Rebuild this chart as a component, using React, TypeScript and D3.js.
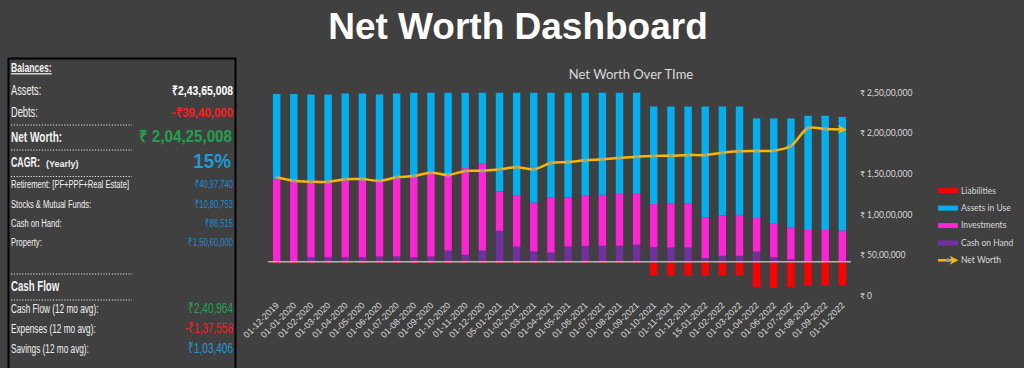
import React, { useEffect, useRef } from 'react';
import * as d3 from 'd3';

// months shown on the chart
const dates = [
  '01-12-2019', '01-01-2020', '01-02-2020', '01-03-2020', '01-04-2020', '01-05-2020',
  '01-06-2020', '01-07-2020', '01-08-2020', '01-09-2020', '01-10-2020', '01-11-2020',
  '01-12-2020', '05-01-2021', '01-02-2021', '01-03-2021', '01-04-2021', '01-05-2021',
  '01-06-2021', '01-07-2021', '01-08-2021', '01-09-2021', '01-10-2021', '01-11-2021',
  '01-12-2021', '15-01-2022', '01-02-2022', '01-03-2022', '01-04-2022', '01-06-2022',
  '01-07-2022', '01-08-2022', '01-09-2022', '01-11-2022',
];

// all values in lakhs (1 lakh = 1,00,000)
const cashOnHand = [0.5, 0.5, 7.9, 7.9, 7.9, 7.9, 8.9, 8.9, 7.9, 8.9, 19, 11.8, 19, 52.1, 25.7, 17.3, 15.6,
  25.7, 26.9, 26.9, 26.9, 28.6, 24.7, 24, 24, 6.2, 10.1, 10.1, 17.3, 7.9, 4.5, 0.9, 0.9, 0.87];
const investments = [137.4, 134.5, 126.6, 126.6, 129.1, 129.1, 126.8, 131.2, 135, 139.6, 125.6, 145.8, 146.3,
  66.1, 86.5, 82.4, 92.9, 82.4, 84.1, 85.8, 87.4, 86.9, 72.3, 74.7, 74.7, 68.3, 67.8, 68.9, 56.2, 56, 53.1,
  52.9, 52.9, 51.78];
const assetsInUse = [144.1, 147, 146.8, 146.8, 146, 146, 145.6, 142.9, 141.3, 135.7, 139.6, 126.6, 118.9, 166,
  172, 184.5, 175.7, 176.1, 173.2, 171.5, 169.9, 168.7, 164.1, 162.4, 162.4, 186.6, 183.2, 182.1, 167.5, 177.1,
  183.4, 191.7, 191.7, 191.0];
const liabilities = [-2.5, -2.5, -2.5, -2.5, -2.5, -2.5, -2.5, -2.5, -2.5, -2.5, -2.5, -2.5, -2.5, -2.5, -2.5,
  -2.5, -2, -2, -2, -2, -2, -2, -23, -23, -23, -23, -23, -23, -43.2, -44.2, -42.5, -39.4, -39.4, -39.4];
const netWorth = [145.5, 141.3, 140.1, 140.1, 143.1, 143.4, 141.3, 145.5, 147.1, 151.2, 148.4, 153.3, 153.6,
  155.4, 157.8, 155.4, 163.1, 164.3, 166.4, 167.7, 169.2, 170.8, 171.7, 172.1, 172.9, 172.9, 175.8, 177.5,
  177.9, 178.2, 184, 205.8, 204.9, 204.25];

const nwTicks = [0, 50, 100, 150, 200, 250];

const legendLabels = ['Liabilities', 'Assets in Use', 'Investments', 'Cash on Hand', 'Net Worth'];
const colors = {
  liabilities: '#ff0000',
  assets: '#00b0f0',
  investments: '#ff22d6',
  cash: '#7030a0',
  line: '#f5b800',
  marker: '#7f9fc4',
};

// left panel
const balanceLabels = ['Assets:', 'Debts:'];
const balanceValues = ['₹2,43,65,008', '-₹39,40,000'];
const netWorthValue = '₹ 2,04,25,008';
const cagrValue = '15%';
const holdingLabels = ['Retirement: [PF+PPF+Real Estate]', 'Stocks & Mutual Funds:', 'Cash on Hand:', 'Property:'];
const holdingValues = ['₹40,97,740', '₹10,80,753', '₹86,515', '₹1,50,60,000'];
const flowLabels = ['Cash Flow (12 mo avg):', 'Expenses (12 mo avg):', 'Savings (12 mo avg):'];
const flowValues = ['₹2,40,964', '-₹1,37,558', '₹1,03,406'];

function inr(lakhs: number) {
  const s = String(Math.round(lakhs * 100000));
  if (s.length <= 3) return '₹ ' + s;
  const last3 = s.slice(-3);
  const rest = s.slice(0, -3).replace(/\B(?=(\d{2})+(?!\d))/g, ',');
  return '₹ ' + rest + ',' + last3;
}

const W = 1024;
const H = 368;
const sans = "'Liberation Sans', Arial, sans-serif";
const chartFont = "Lato, 'Liberation Sans', sans-serif";

function App() {
  const svgRef = useRef<SVGSVGElement>(null);

  useEffect(() => {
    const svg = d3.select(svgRef.current);
    svg.selectAll('*').remove();

    svg.append('rect').attr('width', W).attr('height', H).attr('fill', '#404040');

    // main heading
    svg.append('text')
      .attr('x', 518).attr('y', 39)
      .attr('text-anchor', 'middle')
      .attr('font-family', sans)
      .attr('font-weight', 'bold')
      .attr('font-size', 37)
      .attr('fill', '#ffffff')
      .text('Net Worth Dashboard');

    // ---------- left panel ----------
    const panel = svg.append('g');
    panel.append('rect')
      .attr('x', 8.5).attr('y', 58.5).attr('width', 227).attr('height', 330)
      .attr('fill', 'none').attr('stroke', '#000').attr('stroke-width', 2);

    const left = 11;
    const right = 233;
    const dotted = (y: number) => panel.append('line')
      .attr('x1', left).attr('x2', 132).attr('y1', y).attr('y2', y)
      .attr('stroke', '#e8e8e8').attr('stroke-width', 1).attr('stroke-dasharray', '1.2 1.6');

    // condensed look: squeeze the text horizontally around its anchor
    const txt = (x: number, y: number, s: string, size: number, fill: string, bold = false, anchor = 'start', sx = 0.66) =>
      panel.append('text')
        .attr('transform', `translate(${x},${y}) scale(${sx},1)`)
        .attr('text-anchor', anchor)
        .attr('font-family', sans)
        .attr('font-size', size)
        .attr('font-weight', bold ? 'bold' : 'normal')
        .attr('fill', fill)
        .text(s);

    txt(left, 72, 'Balances:', 12.5, '#f2f2f2', true, 'start', 0.69).style('text-decoration', 'underline');
    const balColors = ['#ffffff', '#ff1a1a'];
    const balScale = [0.8, 0.88];
    balanceLabels.forEach((l, i) => {
      const y = 95 + i * 21.5;
      txt(left, y, l, 14, '#f2f2f2');
      txt(right, y, balanceValues[i], 13, balColors[i], true, 'end', balScale[i]);
    });
    dotted(125);
    txt(left, 141.5, 'Net Worth:', 15, '#f2f2f2', true, 'start', 0.67);
    txt(right - 1, 141.5, netWorthValue, 16.5, '#22a04f', true, 'end', 0.92);
    dotted(150);
    txt(left, 166.5, 'CAGR:', 14, '#f2f2f2', true, 'start', 0.63);
    txt(46, 166.5, '(Yearly)', 9, '#f2f2f2', true, 'start', 1);
    txt(right - 2, 168, cagrValue, 21, '#1e9ad6', true, 'end', 0.9);
    dotted(176.5);
    holdingLabels.forEach((l, i) => {
      const y = 188.3 + i * 19.3;
      txt(left, y, l, 11.5, '#f2f2f2');
      txt(right, y, holdingValues[i], 11.5, '#1b8ed0', false, 'end', 0.66);
    });
    dotted(274);
    txt(left, 290.5, 'Cash Flow', 14, '#f2f2f2', true, 'start', 0.69);
    dotted(300);
    const flowColors = ['#22a04f', '#ff1a1a', '#1e9ad6'];
    flowLabels.forEach((l, i) => {
      const y = 313.3 + i * 20;
      txt(left, y, l, 12.5, '#f2f2f2');
      txt(right, y, flowValues[i], 15, flowColors[i], false, 'end', 0.67);
    });

    // ---------- chart ----------
    const top = 92.3;
    const bottom = 295.7;
    const x = d3.scaleBand<string>().domain(dates).range([268.1, 850.9]).paddingInner(0.568).paddingOuter(0.284);
    const yBar = d3.scaleLinear().domain([-57, 285]).range([bottom, top]);
    const yNW = d3.scaleLinear().domain([0, 250]).range([bottom, top]);

    const chart = svg.append('g');

    chart.append('text')
      .attr('x', 631).attr('y', 79.3)
      .attr('text-anchor', 'middle')
      .attr('font-family', chartFont)
      .attr('font-size', 13)
      .attr('fill', '#d9d9d9')
      .text('Net Worth Over TIme');

    const rows = dates.map((d, i) => ({
      date: d,
      cash: cashOnHand[i],
      investments: investments[i],
      assets: assetsInUse[i],
      liabilities: liabilities[i],
    }));

    const stack = d3.stack<any>().keys(['cash', 'investments', 'assets']);
    const series = stack(rows);
    const stackColors: Record<string, string> = { cash: colors.cash, investments: colors.investments, assets: colors.assets };

    series.forEach((s) => {
      chart.append('g').selectAll('rect')
        .data(s)
        .enter()
        .append('rect')
        .attr('x', (d: any) => x(d.data.date)!)
        .attr('width', x.bandwidth())
        .attr('y', (d) => yBar(d[1]))
        .attr('height', (d) => yBar(d[0]) - yBar(d[1]))
        .attr('fill', stackColors[s.key]);
    });

    chart.append('g').selectAll('rect')
      .data(rows)
      .enter()
      .append('rect')
      .attr('x', (d) => x(d.date)!)
      .attr('width', x.bandwidth())
      .attr('y', yBar(0))
      .attr('height', (d) => yBar(d.liabilities) - yBar(0))
      .attr('fill', colors.liabilities);

    // zero line
    chart.append('line')
      .attr('x1', 268.1).attr('x2', 850.9)
      .attr('y1', yBar(0)).attr('y2', yBar(0))
      .attr('stroke', '#b4b4b4').attr('stroke-width', 1.5);

    // x labels
    chart.append('g').selectAll('text')
      .data(dates)
      .enter()
      .append('text')
      .attr('transform', (d) => `translate(${x(d)! + x.bandwidth() / 2 + 3},${306}) rotate(-45)`)
      .attr('text-anchor', 'end')
      .attr('font-family', sans)
      .attr('font-size', 9)
      .attr('fill', '#d9d9d9')
      .text((d) => d);

    // right axis for net worth
    const axis = chart.append('g')
      .attr('transform', 'translate(858,0)')
      .call(d3.axisRight(yNW).tickValues(nwTicks).tickFormat((d) => inr(d as number)).tickSize(0).tickPadding(2));
    axis.select('.domain').remove();
    axis.selectAll('text')
      .attr('font-family', chartFont)
      .attr('font-size', 8.5)
      .attr('fill', '#d9d9d9');

    // net worth line
    const defs = svg.append('defs');
    defs.append('marker')
      .attr('id', 'arrow')
      .attr('viewBox', '0 0 10 10')
      .attr('refX', 5).attr('refY', 5)
      .attr('markerWidth', 9).attr('markerHeight', 9)
      .attr('markerUnits', 'userSpaceOnUse')
      .attr('orient', 'auto')
      .append('path')
      .attr('d', 'M0,0 L10,5 L0,10 L3,5 Z')
      .attr('fill', colors.line);

    const cx = (i: number) => x(dates[i])! + x.bandwidth() / 2;
    const line = d3.line<number>()
      .x((d, i) => cx(i))
      .y((d) => yNW(d))
      .curve(d3.curveCatmullRom.alpha(0.5));

    chart.append('path')
      .datum(netWorth)
      .attr('d', line)
      .attr('fill', 'none')
      .attr('stroke', colors.line)
      .attr('stroke-width', 2.5)
      .attr('marker-end', 'url(#arrow)');

    chart.append('g').selectAll('circle')
      .data(netWorth.slice(0, -1))
      .enter()
      .append('circle')
      .attr('cx', (d, i) => cx(i))
      .attr('cy', (d) => yNW(d))
      .attr('r', 2)
      .attr('fill', colors.marker)
      .attr('opacity', 0.85);

    // legend
    const legend = chart.append('g');
    const legendColors = [colors.liabilities, colors.assets, colors.investments, colors.cash];
    legendLabels.forEach((l, i) => {
      const y = 190.7 + i * 17.4;
      if (i < 4) {
        legend.append('rect')
          .attr('x', 938).attr('y', y - 2.5).attr('width', 20).attr('height', 5)
          .attr('fill', legendColors[i]);
      } else {
        legend.append('line')
          .attr('x1', 938).attr('x2', 954).attr('y1', y).attr('y2', y)
          .attr('stroke', colors.line).attr('stroke-width', 2.5)
          .attr('marker-end', 'url(#arrow)');
        legend.append('circle')
          .attr('cx', 948).attr('cy', y).attr('r', 2)
          .attr('fill', colors.marker);
      }
      legend.append('text')
        .attr('x', 961).attr('y', y)
        .attr('dy', '0.35em')
        .attr('font-family', chartFont)
        .attr('font-size', 8.5)
        .attr('fill', '#d9d9d9')
        .text(l);
    });
  }, []);

  return (
    <svg
      ref={svgRef}
      width={W}
      height={H}
      style={{ position: 'absolute', left: 0, top: 0, display: 'block' }}
    ></svg>
  );
}

export default App;
